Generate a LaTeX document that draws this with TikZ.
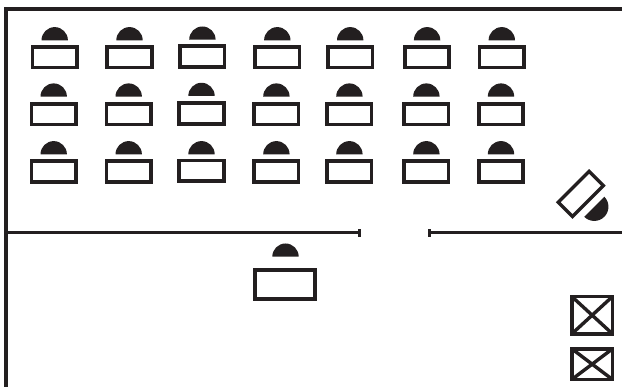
\documentclass[tikz,border=0pt]{standalone}
\definecolor{ink}{HTML}{231F20}
\tikzset{
  desk/.style={draw=ink,line width=3.7pt,fill=white,miter limit=10},
  tiltdesk/.style={draw=ink,line width=3.3pt,fill=white,miter limit=10},
  crate/.style={draw=ink,line width=3.7pt,fill=white},
  crossline/.style={draw=ink,line width=3.4pt},
  head/.style={fill=ink,draw=none},
  wall/.style={draw=ink,line width=3.9pt},
  partition/.style={draw=ink,line width=2.6pt},
  tick/.style={draw=ink,line width=2.8pt}
}
\begin{document}
\begin{tikzpicture}[x=1pt,y=-1pt]
\useasboundingbox (0,0) rectangle (622,387);
\fill[white] (0,0) rectangle (622,387);
% outer walls
\draw[wall] (5.7,387) -- (5.7,8.6) -- (622,8.6);
% partition
\draw[partition] (5.7,232.7) -- (359.3,232.7);
\draw[tick] (359.3,229.4) -- (359.3,236.8);
\draw[partition] (429.5,232.7) -- (622,232.7);
\draw[tick] (429.5,229.4) -- (429.5,236.8);
% student desks, first row
\foreach \cx/\ty/\by in {54.7/40.3/0,129.5/40.3/0,202.4/39.7/-0.6,277.3/40.3/0,350.2/40.3/0,427.1/40.3/0,501.8/40.3/0}{
  \fill[head] (\cx-13.2,\ty) arc[start angle=180,end angle=360,radius=13.2] -- cycle;
  \draw[desk] (\cx-22.2,46.9+\by) rectangle (\cx+22.2,67.4+\by);
}
% student desks, second and third rows
\foreach \cx/\by in {53.7/0,128.7/0,201.5/-0.6,276.4/0,349.4/0,426.4/0,501/0}{
  \fill[head] (\cx-13.2,96.6+\by) arc[start angle=180,end angle=360,radius=13.2] -- cycle;
  \draw[desk] (\cx-22.2,103.9+\by) rectangle (\cx+22.2,124.5+\by);
  \fill[head] (\cx-13.2,154.3) arc[start angle=180,end angle=360,radius=13.2] -- cycle;
  \draw[desk] (\cx-22.2,161.2+\by) rectangle (\cx+22.2,181.9+\by);
}
% teacher desk
\fill[head] (272.3,256.7) arc[start angle=180,end angle=360,radius=13.2] -- cycle;
\draw[desk] (255.2,270.2) rectangle (315.1,299.1);
% rotated desk
\draw[tiltdesk,rotate around={45:(580.8,193.9)}] (580.8-21.8,193.9-10.1) rectangle (580.8+21.8,193.9+10.1);
\fill[head] (604.3,196.7) arc[start angle=-45,end angle=135,radius=14.2] -- cycle;
% crates
\draw[crate] (571.9,296.6) rectangle (612.4,333.8);
\draw[crossline] (571.9,296.6) -- (612.4,333.8);
\draw[crossline] (571.9,333.8) -- (612.4,296.6);
\draw[crate] (571.9,348.9) rectangle (612.4,379.4);
\draw[crossline] (571.9,348.9) -- (612.4,379.4);
\draw[crossline] (571.9,379.4) -- (612.4,348.9);
\end{tikzpicture}
\end{document}
